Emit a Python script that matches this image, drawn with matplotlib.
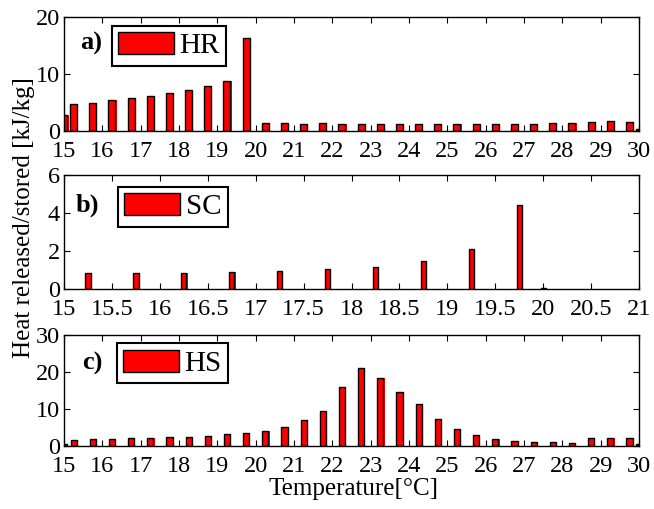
import matplotlib.pyplot as plt
import numpy as np

plt.rcParams['font.family'] = ['Liberation Serif', 'DejaVu Serif']

# bar positions (degC) and heights (kJ/kg)
temp_ab = [15.0, 15.25, 15.75, 16.25, 16.75, 17.25, 17.75, 18.25, 18.75, 19.25, 19.75,
           20.25, 20.75, 21.25, 21.75, 22.25, 22.75, 23.25, 23.75, 24.25, 24.75,
           25.25, 25.75, 26.25, 26.75, 27.25, 27.75, 28.25, 28.75, 29.25, 29.75, 30.0]
hr = [2.8, 4.75, 5.0, 5.4, 5.75, 6.1, 6.6, 7.15, 7.85, 8.85, 16.4,
      1.35, 1.35, 1.3, 1.35, 1.3, 1.3, 1.3, 1.3, 1.3, 1.3,
      1.3, 1.3, 1.3, 1.3, 1.3, 1.4, 1.45, 1.55, 1.8, 1.5, 0.3]
hs = [0.6, 1.6, 1.8, 1.8, 2.1, 2.2, 2.3, 2.3, 2.8, 3.2, 3.4,
      4.1, 5.2, 6.9, 9.5, 15.9, 21.2, 18.5, 14.5, 11.4, 7.3,
      4.6, 2.9, 2.0, 1.45, 1.1, 1.0, 0.9, 2.1, 2.1, 2.1, 0.6]

temp_sc = [15.25, 15.75, 16.25, 16.75, 17.25, 17.75, 18.25, 18.75, 19.25, 19.75, 20.0]
sc = [0.84, 0.84, 0.87, 0.89, 0.98, 1.08, 1.19, 1.47, 2.13, 4.44, 0.05]

xt_a = list(range(15, 31))
xt_b = [15, 15.5, 16, 16.5, 17, 17.5, 18, 18.5, 19, 19.5, 20, 20.5, 21]
xtl_b = ['15', '15.5', '16', '16.5', '17', '17.5', '18', '18.5', '19', '19.5', '20', '20.5', '21']

fig = plt.figure(figsize=(6.54, 5.09), dpi=100)
L, W = 0.0979, 0.8792
ax1 = fig.add_axes([L, 0.7426, W, 0.2234])
ax2 = fig.add_axes([L, 0.4316, W, 0.2246])
ax3 = fig.add_axes([L, 0.1238, W, 0.2180])

panels = [
    (ax1, temp_ab, hr, 0.18, 'HR', 'a)', (15, 30), (0, 20), [0, 10, 20], xt_a, None,
     (0.083, 0.926), (0.028, 0.774)),
    (ax2, temp_sc, sc, 0.055, 'SC', 'b)', (15, 21), (0, 6), [0, 2, 4, 6], xt_b, xtl_b,
     (0.094, 0.898), (0.021, 0.738)),
    (ax3, temp_ab, hs, 0.16, 'HS', 'c)', (15, 30), (0, 30), [0, 10, 20, 30], xt_a, None,
     (0.092, 0.925), (0.031, 0.748)),
]

for ax, x, y, w, name, lab, xl, yl, yt, xt, xtl, leg_pos, lab_pos in panels:
    # slight red "shadow" to the right of each bar, as in the original render
    px = (xl[1] - xl[0]) / 575.0
    ax.bar(np.array(x) + 1.2 * px, y, width=w, color='red', edgecolor='none')
    ax.bar(x, y, width=w, color='red', edgecolor='black', linewidth=1.0, label=name)
    ax.set_xlim(*xl)
    ax.set_ylim(*yl)
    ax.set_yticks(yt)
    ax.set_xticks(xt)
    if xtl is not None:
        ax.set_xticklabels(xtl)
    ax.tick_params(direction='in', top=True, right=True, length=4, width=0.8,
                   labelsize=17.5, pad=3)
    ax.tick_params(axis='x', pad=7)
    for s in ax.spines.values():
        s.set_linewidth(1.0)
    leg = ax.legend(loc='upper left', bbox_to_anchor=leg_pos, fontsize=21,
                    fancybox=False, edgecolor='black', framealpha=1,
                    handlelength=1.9, handleheight=0.8, handletextpad=0.2,
                    borderpad=0.22, borderaxespad=0)
    leg.get_frame().set_linewidth(1.5)
    ax.text(lab_pos[0], lab_pos[1], lab, transform=ax.transAxes, fontsize=19,
            fontweight='bold', va='center', ha='left')

fig.text(0.037, 0.572, 'Heat released/stored [kJ/kg]', rotation=90,
         fontsize=18, ha='center', va='center')
fig.text(0.541, 0.039, 'Temperature[°C]', fontsize=18, ha='center', va='center')

fig.savefig('out.png', dpi=100)
